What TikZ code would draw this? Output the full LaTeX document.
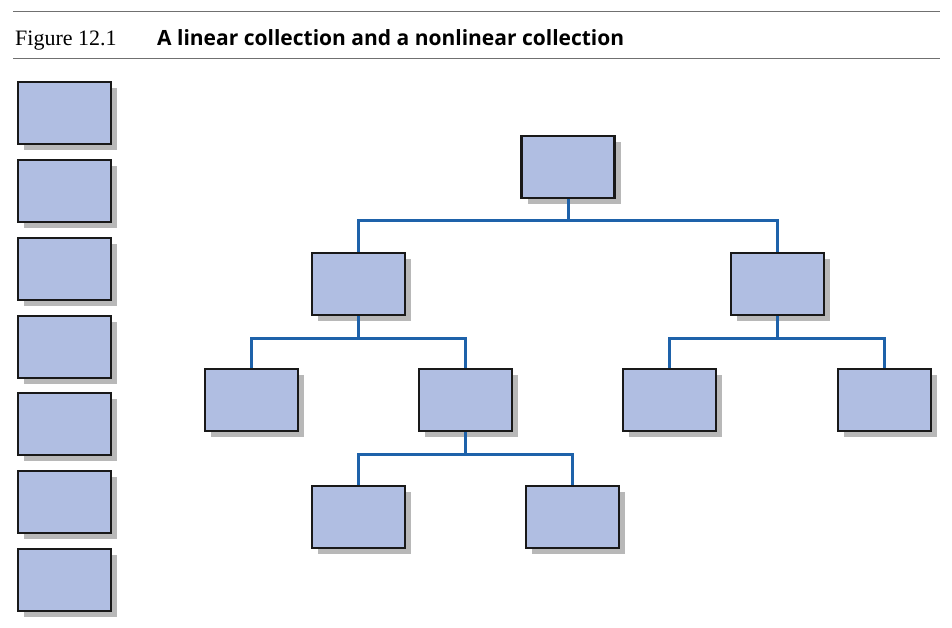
\documentclass[tikz,border=0pt]{standalone}
\usepackage{fontspec}
\setmainfont{Liberation Serif}
\setsansfont{Open Sans}
\usetikzlibrary{shadows}

\definecolor{cellfill}{RGB}{176,190,226}
\definecolor{linkblue}{RGB}{30,98,170}
\definecolor{rulegray}{RGB}{112,112,112}

\tikzset{
  cell/.style={draw=black!90, line width=2.2pt, fill=cellfill, minimum width=93pt,
    minimum height=62pt, inner sep=0pt,
    drop shadow={shadow xshift=6pt, shadow yshift=-6pt, fill=black!28, opacity=1}},
  link/.style={draw=linkblue, line width=3pt}
}

\begin{document}
\begin{tikzpicture}[x=1pt, y=-1pt]
    \useasboundingbox (0,0) rectangle (952,627);
    %title
    \draw[rulegray, line width=1.2pt] (13,11.5) -- (940,11.5);
    \draw[rulegray, line width=1.2pt] (13,58.5) -- (940,58.5);
    \node[anchor=base west, inner sep=0pt, font=\fontsize{22}{24}\selectfont] (fignum) at (15,45) {Figure 12.1};
    \node[anchor=base west, inner sep=0pt, font=\sffamily\bfseries\fontsize{21}{24}\selectfont] (figcap) at (157,45) {A linear collection and a nonlinear collection};
    %linear
    \foreach \i/\y in {1/113,2/191,3/269,4/347,5/424,6/502,7/580}
      \node[cell] (lin\i) at (64.5,\y) {};
    %nonlinear
    \node[cell] (root) at (568,167) {};
    \node[cell] (ta) at (358.5,284) {};
    \node[cell] (tb) at (777.5,284) {};
    \node[cell] (taa) at (251.5,400) {};
    \node[cell] (tab) at (465.5,400) {};
    \node[cell] (tba) at (669.5,400) {};
    \node[cell] (tbb) at (884.5,400) {};
    \node[cell] (taba) at (358.5,517) {};
    \node[cell] (tabb) at (572.5,517) {};
    \draw[link] (root.south) -- ++(0,21) coordinate (j1) -| (ta.north);
    \draw[link] (j1) -| (tb.north);
    \draw[link] (ta.south) -- ++(0,22) coordinate (j2) -| (taa.north);
    \draw[link] (j2) -| (tab.north);
    \draw[link] (tb.south) -- ++(0,22) coordinate (j3) -| (tba.north);
    \draw[link] (j3) -| (tbb.north);
    \draw[link] (tab.south) -- ++(0,22) coordinate (j4) -| (taba.north);
    \draw[link] (j4) -| (tabb.north);
\end{tikzpicture}
\end{document}
